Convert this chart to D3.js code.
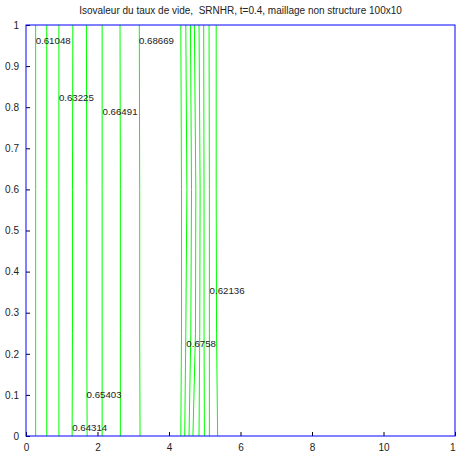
<!DOCTYPE html>
<html>
<head>
<meta charset="utf-8">
<script src="https://cdn.jsdelivr.net/npm/d3@7"></script>
<style>
  html, body { margin: 0; padding: 0; background: #fff; }
  svg { display: block; }
  text { font-family: "Liberation Sans", Arial, sans-serif; fill: #222; }
</style>
</head>
<body>
<script>
// ---- data ----
const titleText = "Isovaleur du taux de vide,  SRNHR, t=0.4, maillage non structure 100x10";
const xTicks = [0, 2, 4, 6, 8, 10, 12];
const yTicks = [0, 0.1, 0.2, 0.3, 0.4, 0.5, 0.6, 0.7, 0.8, 0.9, 1];
const yLevels = [0, 0.25, 0.6, 1];
// x position of each iso-line at the y levels above
const contourX = [
  [0.27, 0.27, 0.27, 0.27],
  [0.58, 0.58, 0.58, 0.58],
  [0.92, 0.92, 0.92, 0.92],
  [1.29, 1.30, 1.30, 1.31],
  [1.71, 1.70, 1.70, 1.69],
  [2.13, 2.13, 2.13, 2.13],
  [2.64, 2.64, 2.64, 2.63],
  [3.19, 3.18, 3.18, 3.17],
  [4.33, 4.35, 4.35, 4.33],
  [4.44, 4.47, 4.50, 4.47],
  [4.56, 4.61, 4.63, 4.60],
  [4.67, 4.74, 4.75, 4.71],
  [4.84, 4.86, 4.87, 4.84],
  [4.99, 4.98, 4.98, 4.97],
  [5.13, 5.13, 5.13, 5.12],
  [5.36, 5.33, 5.32, 5.32]
];
const labelText = ["0.61048", "0.68669", "0.63225", "0.66491", "0.62136", "0.6758", "0.65403", "0.64314"];
const labelX    = [0.27, 3.16, 0.92, 2.14, 5.135, 4.485, 1.694, 1.292];
const labelY    = [0.963, 0.963, 0.824, 0.789, 0.353, 0.226, 0.0998, 0.021];

// ---- chart ----
const W = 456, H = 452;
const x = d3.scaleLinear().domain([0, 12]).range([26, 455]);
const y = d3.scaleLinear().domain([0, 1]).range([436, 25]);

const svg = d3.select("body").append("svg").attr("width", W).attr("height", H);

// contour lines
const line = d3.line().x(d => x(d[0])).y(d => y(d[1]));
svg.append("g").selectAll("path").data(contourX).join("path")
  .attr("d", xs => line(xs.map((v, i) => [v, yLevels[i]])))
  .attr("fill", "none").attr("stroke", "#00ff00").attr("stroke-width", 1);

// labels
svg.append("g").selectAll("text").data(labelText).join("text")
  .attr("x", (d, i) => x(labelX[i]))
  .attr("y", (d, i) => y(labelY[i]))
  .attr("dy", "0.35em")
  .attr("font-size", 9.7)
  .attr("fill", "#111")
  .text(d => d);

// axes
const xAxis = d3.axisBottom(x).tickValues(xTicks).tickSizeInner(-4).tickSizeOuter(0).tickPadding(8).tickFormat(d3.format("d"));
const yAxis = d3.axisLeft(y).tickValues(yTicks).tickSizeInner(-4).tickSizeOuter(0).tickPadding(7).tickFormat(d => d === 0 || d === 1 ? String(d) : d3.format(".1f")(d));

const gx = svg.append("g").attr("transform", `translate(0,${y(0)})`).call(xAxis);
const gy = svg.append("g").attr("transform", `translate(${x(0)},0)`).call(yAxis);
[gx, gy].forEach(g => {
  g.select(".domain").remove();
  g.selectAll(".tick line").attr("stroke", "#000");
  g.selectAll(".tick text").attr("font-size", 10).attr("fill", "#222")
    .attr("font-family", "Liberation Sans, Arial, sans-serif");
});

// blue box
svg.append("rect")
  .attr("x", x(0)).attr("y", y(1))
  .attr("width", x(12) - x(0)).attr("height", y(0) - y(1))
  .attr("fill", "none").attr("stroke", "#0000ff").attr("stroke-width", 1);

// title
svg.append("text")
  .attr("x", (x(0) + x(12)) / 2).attr("y", 14)
  .attr("text-anchor", "middle").attr("font-size", 10)
  .style("white-space", "pre")
  .text(titleText);
</script>
</body>
</html>
